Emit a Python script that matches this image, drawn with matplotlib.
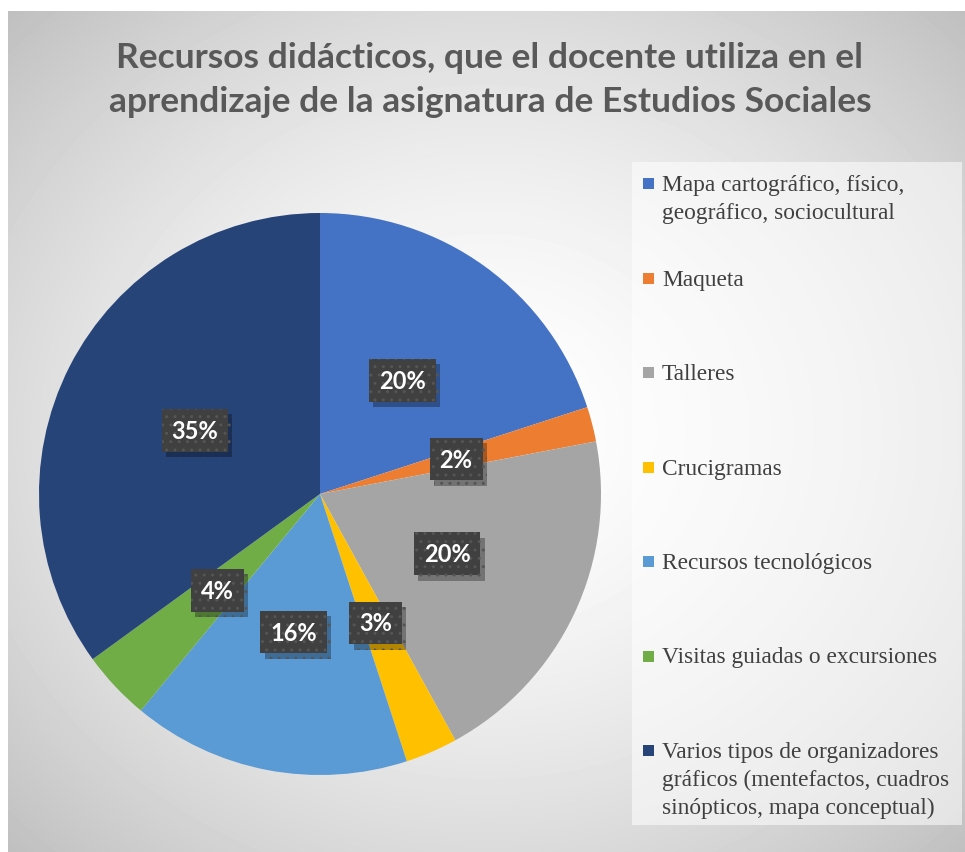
import numpy as np
import matplotlib
matplotlib.use("Agg")
import matplotlib.pyplot as plt
import matplotlib.patheffects as pe
from matplotlib.patches import Rectangle

title = "Recursos didácticos, que el docente utiliza en el\naprendizaje de la asignatura de Estudios Sociales"
categories = [
    "Mapa cartográfico, físico,\ngeográfico, sociocultural",
    "Maqueta",
    "Talleres",
    "Crucigramas",
    "Recursos tecnológicos",
    "Visitas guiadas o excursiones",
    "Varios tipos de organizadores\ngráficos (mentefactos, cuadros\nsinópticos, mapa conceptual)",
]
values = [20, 2, 20, 3, 16, 4, 35]
colors = ["#4472C4", "#ED7D31", "#A5A5A5", "#FFC000", "#5B9BD5", "#70AD47", "#264478"]

W, H = 965, 853
fig = plt.figure(figsize=(W / 100, H / 100), dpi=100)
fig.patch.set_facecolor("white")

# background: radial gradient inside the chart area
bg = fig.add_axes([0, 0, 1, 1], zorder=0)
bg.set_xlim(0, W)
bg.set_ylim(H, 0)
bg.axis("off")
yy, xx = np.mgrid[12:H, 8:W]
cx, cy = (8 + W) / 2, (12 + H) / 2
d = np.hypot((xx - cx) / (W - 8), (yy - cy) / (H - 12)) / np.hypot(0.5, 0.5)
shade = 1.0 - 0.25 * d ** 1.6
bg.imshow(shade, cmap="gray", vmin=0, vmax=1, extent=(8, W, H, 12), aspect="auto")

# legend box
bg.add_patch(Rectangle((632, 163), 330, 663, facecolor="white", alpha=0.55, edgecolor="none"))
for i, (lab, c) in enumerate(zip(categories, colors)):
    y = 185 + i * 94.5
    bg.add_patch(Rectangle((643, y - 6), 11, 11, facecolor=c, edgecolor="none"))
    bg.text(662, y - 10, lab, fontsize=16.8, family="Liberation Serif", color="#404040",
            va="top", ha="left", linespacing=1.42)

fig.text(490 / W, 1 - 80 / H, title, ha="center", va="center", fontsize=25.5,
         fontweight="bold", family="Lato", color="#595959", linespacing=1.5)

# pie
R = 281
ax = fig.add_axes([(320 - R) / W, (H - 495 - R) / H, 2 * R / W, 2 * R / H], zorder=1)
wedges, texts, autotexts = ax.pie(values, colors=colors, startangle=90, counterclock=False,
                                  autopct="%d%%", pctdistance=0.5,
                                  wedgeprops=dict(linewidth=0))
ax.set_xlim(-1, 1)
ax.set_ylim(-1, 1)
ax.set_aspect("equal")

for t in autotexts:
    t.set_fontsize(17)
    t.set_fontweight("bold")
    t.set_family("Lato")
    t.set_color("white")
    t.set_zorder(5)
    t.set_bbox(dict(boxstyle="square,pad=0.42", fc="#404040", ec="#555555", lw=0, hatch=".."))
    t.get_bbox_patch().set_path_effects([
        pe.SimplePatchShadow(offset=(3, -4), shadow_rgbFace="black", alpha=0.3), pe.Normal()])

fig.savefig("out.png", dpi=100)
